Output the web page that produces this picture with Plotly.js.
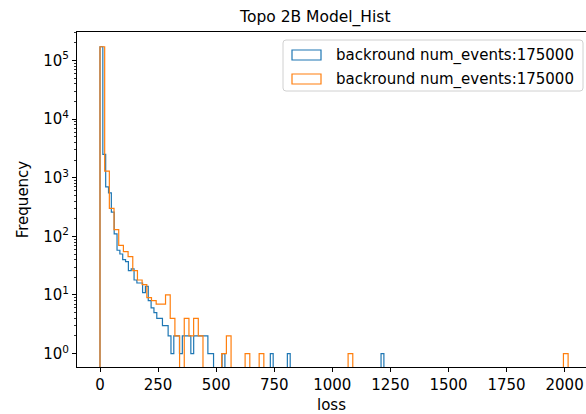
<!DOCTYPE html>
<html>
<head>
<meta charset="utf-8">
<script src="https://cdn.plot.ly/plotly-3.0.1.min.js"></script>
<style>
  html, body { margin: 0; padding: 0; background: #ffffff; }
  #chart { width: 586px; height: 414px; }
</style>
</head>
<body>
<div id="chart"></div>
<script>
// ---- data ----
const seriesNames = ["backround num_events:175000", "backround num_events:175000"];
const seriesColors = ["#1f77b4", "#ff7f0e"];

// histogram ranges (min, max of loss) and number of bins for each series
const blueRange = [0, 1222];
const orangeRange = [0, 2015];
const nBins = 100;

// bin counts, series 1 (blue)
const blueCounts = [
  172000, 2500, 700, 550, 260, 110, 58, 50, 40, 37,
  26, 28, 18, 16, 16, 11, 14, 8, 6, 5,
  4, 4, 3, 3, 2, 1, 2, 2, 1, 2,
  2, 2, 1, 2, 2, 2, 2, 2, 1, 1,
  0, 0, 0, 1, 0, 0, 0, 0, 0, 0,
  0, 0, 0, 0, 0, 0, 0, 0, 0, 0,
  1, 0, 0, 0, 0, 0, 1, 0, 0, 0,
  0, 0, 0, 0, 0, 0, 0, 0, 0, 0,
  0, 0, 0, 0, 0, 0, 0, 0, 0, 0,
  0, 0, 0, 0, 0, 0, 0, 0, 0, 1
];

// bin counts, series 2 (orange)
const orangeCounts = [
  172000, 1300, 300, 130, 70, 55, 45, 26, 18, 15,
  9, 8, 7, 7, 10, 4, 2, 0, 4, 2,
  4, 2, 0, 0, 0, 0, 1, 2, 0, 0,
  0, 1, 0, 0, 1, 0, 0, 0, 0, 0,
  0, 0, 0, 0, 0, 0, 0, 0, 0, 0,
  0, 0, 0, 1, 0, 0, 0, 0, 0, 0,
  0, 0, 0, 0, 0, 0, 0, 0, 0, 0,
  0, 0, 0, 0, 0, 0, 0, 0, 0, 0,
  0, 0, 0, 0, 0, 0, 0, 0, 0, 0,
  0, 0, 0, 0, 0, 0, 0, 0, 0, 1
];

const xTickVals = [0, 250, 500, 750, 1000, 1250, 1500, 1750, 2000];
const yTickVals = [1, 10, 100, 1000, 10000, 100000];
const yTickText = ["10<sup>0</sup>", "10<sup>1</sup>", "10<sup>2</sup>", "10<sup>3</sup>", "10<sup>4</sup>", "10<sup>5</sup>"];

// ---- build step outlines (like matplotlib histtype='step') ----
const FLOOR = 1e-3; // zero counts fall below the log axis and get clipped
function stepOutline(range, n, counts) {
  const w = (range[1] - range[0]) / n;
  const xs = [], ys = [];
  xs.push(range[0]); ys.push(FLOOR);
  for (let i = 0; i < n; i++) {
    const c = counts[i] > 0 ? counts[i] : FLOOR;
    const e0 = range[0] + i * w, e1 = range[0] + (i + 1) * w;
    xs.push(e0); ys.push(c);
    xs.push(e1); ys.push(c);
  }
  xs.push(range[1]); ys.push(FLOOR);
  return { xs, ys };
}

const blue = stepOutline(blueRange, nBins, blueCounts);
const orange = stepOutline(orangeRange, nBins, orangeCounts);

const minorVals = [];
for (let d = 0; d < 6; d++) for (let k = 2; k <= 9; k++) minorVals.push(k * Math.pow(10, d));

const LW = 1.2;
const traces = [
  { x: blue.xs, y: blue.ys, type: "scatter", mode: "lines", name: seriesNames[0],
    line: { color: seriesColors[0], width: LW }, hoverinfo: "skip", showlegend: false },
  { x: orange.xs, y: orange.ys, type: "scatter", mode: "lines", name: seriesNames[1],
    line: { color: seriesColors[1], width: LW }, hoverinfo: "skip", showlegend: false }
];

// ---- page geometry ----
const W = 586, H = 414;
const M = { l: 77, r: 0, t: 32, b: 47 };
const PW = W - M.l - M.r, PH = H - M.t - M.b;
const px = (x) => (x - M.l) / PW;          // pixel -> paper x
const py = (y) => (H - M.b - y) / PH;      // pixel -> paper y

// legend drawn like matplotlib's patch legend (rectangle handles)
function roundedRect(x0, y0, x1, y1, r) {
  const X0 = px(x0), X1 = px(x1), Y0 = py(y0), Y1 = py(y1);
  const rx = r / PW, ry = r / PH;
  return `M${X0 + rx},${Y0} L${X1 - rx},${Y0} Q${X1},${Y0} ${X1},${Y0 - ry} L${X1},${Y1 + ry} Q${X1},${Y1} ${X1 - rx},${Y1} L${X0 + rx},${Y1} Q${X0},${Y1} ${X0},${Y1 + ry} L${X0},${Y0 - ry} Q${X0},${Y0} ${X0 + rx},${Y0} Z`;
}
const legendRows = [55, 79];
const shapes = [
  { type: "path", xref: "paper", yref: "paper", path: roundedRect(283, 40, 583, 91, 3),
    fillcolor: "rgba(255,255,255,0.85)", line: { color: "#d0d0d0", width: 1 }, layer: "above" }
];
const annotations = [];
legendRows.forEach((cy, i) => {
  shapes.push({ type: "rect", xref: "paper", yref: "paper",
    x0: px(292), x1: px(321), y0: py(cy - 5), y1: py(cy + 5),
    fillcolor: "rgba(0,0,0,0)", line: { color: seriesColors[i], width: LW }, layer: "above" });
  annotations.push({ xref: "paper", yref: "paper", x: px(334), y: py(cy), xanchor: "left", yanchor: "middle",
    text: seriesNames[i], showarrow: false, font: { family: "DejaVu Sans, sans-serif", size: 15, color: "#000" } });
});

const font = "DejaVu Sans, sans-serif";
const layout = {
  width: W, height: H,
  margin: M,
  paper_bgcolor: "#ffffff", plot_bgcolor: "#ffffff",
  font: { family: font, size: 15, color: "#000000" },
  showlegend: false,
  title: { text: "Topo 2B Model_Hist", font: { family: font, size: 15.5, color: "#000000" },
           xref: "container", x: 0.538, xanchor: "center", yref: "container", y: 0.959, yanchor: "middle" },
  xaxis: {
    type: "linear", range: [-99, 2092],
    tickmode: "array", tickvals: xTickVals, ticktext: xTickVals.map(String),
    ticks: "outside", ticklen: 4, tickwidth: 1, tickcolor: "#000",
    showline: true, linecolor: "#000", linewidth: 1, mirror: true,
    showgrid: false, zeroline: false,
    tickfont: { family: font, size: 15, color: "#000" },
    title: { text: "loss", font: { family: font, size: 15, color: "#000" }, standoff: 6 }
  },
  yaxis: {
    type: "log", range: [-0.229, 5.487],
    tickmode: "array", tickvals: yTickVals, ticktext: yTickText,
    ticks: "outside", ticklen: 4, tickwidth: 1, tickcolor: "#000",
    minor: { tickmode: "array", tickvals: minorVals, ticks: "outside", ticklen: 2, tickwidth: 0.8, tickcolor: "#000", showgrid: false },
    showline: true, linecolor: "#000", linewidth: 1, mirror: false,
    showgrid: false, zeroline: false,
    tickfont: { family: font, size: 15, color: "#000" },
    title: { text: "Frequency", font: { family: font, size: 15, color: "#000" }, standoff: 10 }
  },
  shapes: shapes,
  annotations: annotations
};

Plotly.newPlot("chart", traces, layout, { displayModeBar: false, staticPlot: true });
</script>
</body>
</html>
